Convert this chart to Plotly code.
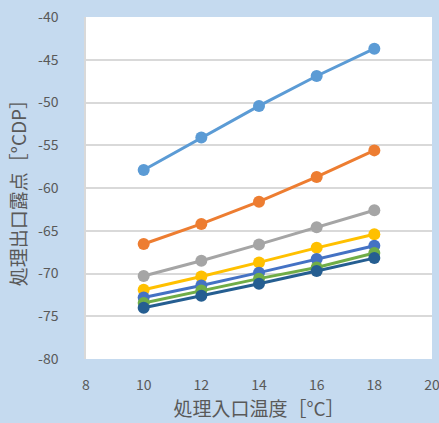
import plotly.graph_objects as go

x_vals = [10, 12, 14, 16, 18]
s1 = [-57.9, -54.1, -50.4, -46.9, -43.7]
s2 = [-66.55, -64.2, -61.6, -58.7, -55.6]
s3 = [-70.3, -68.5, -66.6, -64.6, -62.6]
s4 = [-71.9, -70.35, -68.7, -67.0, -65.4]
s5 = [-72.8, -71.4, -69.9, -68.3, -66.75]
s6 = [-73.45, -72.0, -70.6, -69.3, -67.6]
s7 = [-74.0, -72.6, -71.2, -69.7, -68.2]
series = [s1, s2, s3, s4, s5, s6, s7]
colors = ["#5B9BD5", "#ED7D31", "#A5A5A5", "#FFC000", "#4472C4", "#70AD47", "#255E91"]

y_ticks = [-80, -75, -70, -65, -60, -55, -50, -45, -40]
y_ticktext = [str(v) for v in y_ticks]
x_ticks = [8, 10, 12, 14, 16, 18, 20]

x_title = "処理入口温度［°C］"
y_title = "処理出口露点［°CDP］"

fig = go.Figure()
for s, c in zip(series, colors):
    fig.add_trace(go.Scatter(x=x_vals, y=s, mode="lines+markers",
                             line=dict(color=c, width=3),
                             marker=dict(color=c, size=12),
                             showlegend=False))

font_family = "Noto Sans CJK JP"
fig.update_layout(
    width=439, height=423,
    margin=dict(l=86, r=7, t=17, b=64),
    paper_bgcolor="#C5DAEF",
    plot_bgcolor="#FFFFFF",
    font=dict(family=font_family, color="#595959", size=14),
    xaxis=dict(range=[8, 20], tickvals=x_ticks, ticktext=[str(v) for v in x_ticks],
               showgrid=False, zeroline=False, automargin=False,
               showline=False, ticks="", tickfont=dict(size=14, color="#595959"),
               ticklabelstandoff=16, ticklabeloverflow="allow",
               title=dict(text=x_title, font=dict(size=19, color="#595959"), standoff=6)),
    yaxis=dict(range=[-80, -40], tickvals=y_ticks, ticktext=y_ticktext,
               showgrid=True, gridcolor="#D9D9D9", gridwidth=1.5, automargin=False,
               zeroline=False, showline=True, linecolor="#D9D9D9", linewidth=1.5,
               ticks="", tickfont=dict(size=14, color="#595959"), ticklabelstandoff=23,
               ticklabeloverflow="allow",
               title=dict(text=y_title, font=dict(size=19, color="#595959"), standoff=6)),
)
fig.write_html("out.html", config={"displayModeBar": False},
               post_script="document.body.style.margin='0';document.body.style.background='#C5DAEF';")
